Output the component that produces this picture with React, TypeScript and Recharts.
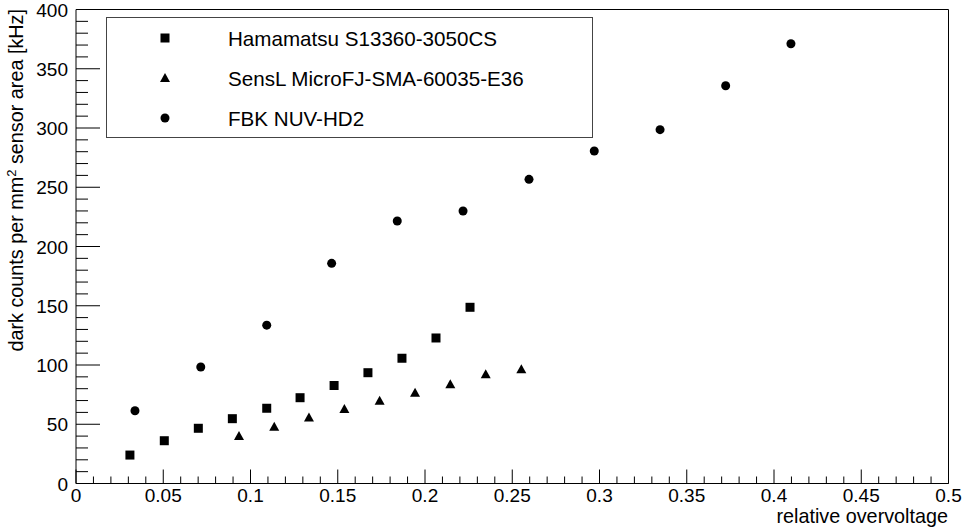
import React from "react";
import {
  ScatterChart,
  Scatter,
  XAxis,
  YAxis,
  Legend,
  ReferenceLine,
  Label,
} from "recharts";

// ---- data ----
const seriesNames = [
  "Hamamatsu S13360-3050CS",
  "SensL MicroFJ-SMA-60035-E36",
  "FBK NUV-HD2",
];

const hamamatsuX = [0.0309, 0.0506, 0.0701, 0.0896, 0.1093, 0.1284, 0.1479, 0.1673, 0.1868, 0.2063, 0.2258];
const hamamatsuY = [24.0, 36.1, 46.6, 54.7, 63.5, 72.4, 82.7, 93.5, 105.7, 122.8, 148.7];

const senslX = [0.0934, 0.1136, 0.1335, 0.1538, 0.174, 0.1943, 0.2145, 0.2348, 0.2552];
const senslY = [40.1, 47.9, 55.8, 62.9, 69.9, 76.6, 83.7, 92.2, 96.4];

const fbkX = [0.0338, 0.0715, 0.1093, 0.1465, 0.1841, 0.2218, 0.2596, 0.297, 0.3347, 0.3723, 0.4097];
const fbkY = [61.4, 98.3, 133.6, 185.8, 221.5, 230.0, 256.7, 280.6, 298.6, 335.7, 371.1];

const xMajorTicks = [0, 0.05, 0.1, 0.15, 0.2, 0.25, 0.3, 0.35, 0.4, 0.45, 0.5];
const yMajorTicks = [0, 50, 100, 150, 200, 250, 300, 350, 400];

const xTitle = "relative overvoltage";

// minor ticks derived from the major ones (5 subdivisions)
const xTicks: number[] = [];
for (let i = 0; i < xMajorTicks.length - 1; i++) {
  const a = xMajorTicks[i];
  const b = xMajorTicks[i + 1];
  for (let k = 0; k < 5; k++) xTicks.push(Number((a + ((b - a) * k) / 5).toFixed(4)));
}
xTicks.push(xMajorTicks[xMajorTicks.length - 1]);
const yTicks: number[] = [];
for (let i = 0; i < yMajorTicks.length - 1; i++) {
  const a = yMajorTicks[i];
  const b = yMajorTicks[i + 1];
  for (let k = 0; k < 5; k++) yTicks.push(a + ((b - a) * k) / 5);
}
yTicks.push(yMajorTicks[yMajorTicks.length - 1]);

const zip = (xs: number[], ys: number[]) => xs.map((x, i) => ({ x, y: ys[i] }));
const hamamatsuData = zip(hamamatsuX, hamamatsuY);
const senslData = zip(senslX, senslY);
const fbkData = zip(fbkX, fbkY);

const FONT = "'Liberation Sans', Arial, Helvetica, sans-serif";
const FS = 19;
const TITLE_FS = 19.8;
const LEGEND_FS = 20.6;

const isMajor = (v: number, majors: number[]) =>
  majors.some((m) => Math.abs(m - v) < 1e-6);

const fmt = (v: number) => String(Number(v.toFixed(3)));

const XTick = (props: any) => {
  const { x, y, payload } = props;
  const major = isMajor(payload.value, xMajorTicks);
  const len = major ? 14 : 7;
  return (
    <g>
      <line x1={x} x2={x} y1={y} y2={y - len} stroke="#000" strokeWidth={1} />
      {major && (
        <text x={x} y={y + 18.5} textAnchor="middle" fontFamily={FONT} fontSize={FS} fill="#000">
          {fmt(payload.value)}
        </text>
      )}
    </g>
  );
};

const YTick = (props: any) => {
  const { x, y, payload } = props;
  const major = isMajor(payload.value, yMajorTicks);
  const len = major ? 24 : 12;
  return (
    <g>
      <line x1={x} x2={x + len} y1={y} y2={y} stroke="#000" strokeWidth={1} />
      {major && (
        <text x={x - 8} y={y + 7} textAnchor="end" fontFamily={FONT} fontSize={FS} fill="#000">
          {fmt(payload.value)}
        </text>
      )}
    </g>
  );
};

const Square = ({ cx, cy }: any) => (
  <rect x={cx - 4.5} y={cy - 4.5} width={9} height={9} fill="#000" />
);
const Triangle = ({ cx, cy }: any) => (
  <polygon points={`${cx},${cy - 5} ${cx - 5},${cy + 4} ${cx + 5},${cy + 4}`} fill="#000" />
);
const Dot = ({ cx, cy }: any) => <circle cx={cx} cy={cy} r={4.5} fill="#000" />;

const markers = [Square, Triangle, Dot];

const YTitle = () => (
  <text
    x={23}
    y={9}
    transform="rotate(-90 23 9)"
    textAnchor="end"
    fontFamily={FONT}
    fontSize={TITLE_FS}
    fill="#000"
  >
    dark counts per mm
    <tspan dy={-7} fontSize={13}>2</tspan>
    <tspan dy={7}> sensor area [kHz]</tspan>
  </text>
);

const XTitle = () => (
  <text x={948} y={523} textAnchor="end" fontFamily={FONT} fontSize={TITLE_FS} fill="#000">
    {xTitle}
  </text>
);

const LegendBox = () => (
  <div
    style={{
      width: 487,
      height: 121,
      border: "1px solid #444",
      boxSizing: "border-box",
      background: "#fff",
    }}
  >
    <svg width={485} height={119} style={{ display: "block" }}>
      {seriesNames.map((name, i) => {
        const M = markers[i];
        const cy = 20 + i * 40;
        return (
          <g key={name}>
            <M cx={58} cy={cy} />
            <text x={121} y={cy + 7.5} fontFamily={FONT} fontSize={LEGEND_FS} fill="#000">
              {name}
            </text>
          </g>
        );
      })}
    </svg>
  </div>
);

export default function App() {
  return (
    <div style={{ position: "absolute", left: 0, top: 0, background: "#fff" }}>
      <ScatterChart
        width={963}
        height={532}
        margin={{ top: 9.5, right: 14.5, bottom: 0, left: 0 }}
      >
        <XAxis
          type="number"
          dataKey="x"
          domain={[0, 0.5]}
          ticks={xTicks}
          interval={0}
          allowDataOverflow
          height={48.5}
          tickSize={0}
          tickMargin={0}
          tickLine={false}
          axisLine={{ stroke: "#000", strokeWidth: 1 }}
          tick={<XTick />}
        >
          <Label content={<XTitle />} />
        </XAxis>
        <YAxis
          type="number"
          dataKey="y"
          domain={[0, 400]}
          ticks={yTicks}
          interval={0}
          allowDataOverflow
          width={76}
          tickSize={0}
          tickMargin={0}
          tickLine={false}
          axisLine={{ stroke: "#000", strokeWidth: 1 }}
          tick={<YTick />}
        >
          <Label content={<YTitle />} />
        </YAxis>
        <ReferenceLine y={400} stroke="#000" strokeWidth={1} ifOverflow="visible" />
        <ReferenceLine x={0.5} stroke="#000" strokeWidth={1} ifOverflow="visible" />
        <Scatter name={seriesNames[0]} data={hamamatsuData} shape={<Square />} isAnimationActive={false} />
        <Scatter name={seriesNames[1]} data={senslData} shape={<Triangle />} isAnimationActive={false} />
        <Scatter name={seriesNames[2]} data={fbkData} shape={<Dot />} isAnimationActive={false} />
        <Legend
          layout="vertical"
          align="center"
          verticalAlign="middle"
          content={<LegendBox />}
          wrapperStyle={{ left: 106, top: 16.5, width: 487, height: 121 }}
        />
      </ScatterChart>
    </div>
  );
}
